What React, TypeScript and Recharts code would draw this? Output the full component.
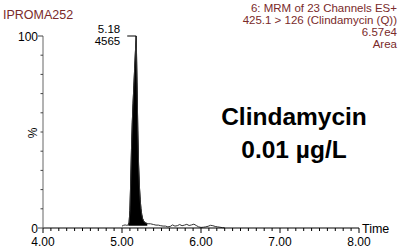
import React from 'react';
import { ComposedChart, Area, Line, XAxis, YAxis, ReferenceDot } from 'recharts';

// Retention time (min) and relative intensity (%) of the MRM trace
const times = [
  5.0, 5.02, 5.04, 5.06, 5.08, 5.09, 5.1, 5.11, 5.12, 5.13, 5.14, 5.15, 5.16, 5.17, 5.18,
  5.19, 5.2, 5.21, 5.22, 5.23, 5.24, 5.25, 5.26, 5.27, 5.28, 5.3, 5.32, 5.34, 5.36, 5.38,
  5.4, 5.43, 5.46, 5.49, 5.52, 5.55, 5.58, 5.61, 5.64, 5.67, 5.7, 5.73, 5.76, 5.79, 5.82,
  5.85, 5.88, 5.91, 5.94, 5.97, 6.0, 6.03, 6.06, 6.09, 6.12, 6.15, 6.18, 6.21, 6.24, 6.27, 6.3,
];
const intensity = [
  1.0, 1.4, 1.6, 1.4, 1.6, 3, 9, 24, 41, 55, 65, 74, 83, 92, 100,
  76, 51, 33, 22, 15, 10, 7, 5, 4, 3.2, 2.6, 2.3, 2.2, 2.2, 2.0,
  1.8, 1.5, 1.5, 1.2, 1.0, 1.0, 0.6, 0.8, 1.6, 1.0, 1.2, 1.8, 1.2, 1.5, 1.9,
  1.3, 1.6, 2.0, 1.3, 0.6, 0.3, 0.4, 0.6, 0.9, 1.4, 1.2, 0.8, 0.6, 0.4, 0.2, 0.1,
];

// Integrated peak
const peakStart = 5.08;
const peakEnd = 5.32;
const peakBase = 1.2;
const apexTime = 5.18;
const apexTimeLabel = '5.18';
const apexAreaLabel = '4565';

// Axes
const xMajorTicks = [4, 5, 6, 7, 8];
const xTickLabels = ['4.00', '5.00', '6.00', '7.00', '8.00'];
const xMinorStep = 0.1;
const yTicks = [0, 10, 20, 30, 40, 50, 60, 70, 80, 90, 100];
const yLabeledTicks = [0, 100];
const yLabels = ['0', '100'];

// Header texts
const sampleName = 'IPROMA252';
const headerLines = [
  '6: MRM of 23 Channels ES+',
  '425.1 > 126 (Clindamycin (Q))',
  '6.57e4',
  'Area',
];
const titleLines = ['Clindamycin', '0.01 µg/L'];

const trace = times.map((t, i) => ({ t, v: intensity[i] }));
const peak = trace.filter((d) => d.t >= peakStart - 1e-9 && d.t <= peakEnd + 1e-9);
const xAllTicks = Array.from({ length: Math.round((8 - 4) / xMinorStep) + 1 }, (_, i) =>
  Math.round((4 + i * xMinorStep) * 10) / 10
);

const FONT = '"Liberation Sans", Arial, Helvetica, sans-serif';
const MAROON = '#7a2a2a';
const FS = 12;

const XTick = (props: any) => {
  const { x, y, payload } = props;
  const v = payload.value as number;
  const idx = xMajorTicks.findIndex((m) => Math.abs(m - v) < 1e-6);
  const major = idx >= 0;
  return (
    <g>
      <line x1={x} y1={y} x2={x} y2={y + (major ? 5 : 3)} stroke="#000" strokeWidth={1} />
      {major && (
        <text x={x} y={y + 18} textAnchor="middle" fontSize={FS} fontFamily={FONT} fill="#000">
          {xTickLabels[idx]}
        </text>
      )}
    </g>
  );
};

const YTick = (props: any) => {
  const { x, y, payload } = props;
  const v = payload.value as number;
  const idx = yLabeledTicks.indexOf(v);
  const major = idx >= 0;
  return (
    <g>
      <line x1={x - (major ? 5 : 2.5)} y1={y} x2={x} y2={y} stroke="#444" strokeWidth={1} />
      {major && (
        <text x={x - 5} y={y + 4.5} textAnchor="end" fontSize={FS} fontFamily={FONT} fill="#000">
          {yLabels[idx]}
        </text>
      )}
    </g>
  );
};

const ApexLabel = (props: any) => {
  const { cx, cy } = props;
  return (
    <g>
      <line x1={cx - 9} y1={cy} x2={cx} y2={cy} stroke="#000" strokeWidth={1} />
      <text x={cx - 16} y={cy - 3} textAnchor="end" fontSize={11.5} fontFamily={FONT} fill="#000">
        {apexTimeLabel}
      </text>
      <text x={cx - 16} y={cy + 9} textAnchor="end" fontSize={11.5} fontFamily={FONT} fill="#000">
        {apexAreaLabel}
      </text>
    </g>
  );
};

export default function App() {
  return (
    <div style={{ position: 'absolute', left: 0, top: 0, width: 403, height: 249, background: '#fff' }}>
      <ComposedChart width={403} height={249} margin={{ top: 36, right: 44, bottom: 0, left: 3 }}>
        <XAxis
          type="number"
          dataKey="t"
          domain={[4, 8]}
          ticks={xAllTicks}
          interval={0}
          allowDataOverflow
          height={21}
          tickSize={0}
          tickMargin={0}
          tickLine={false}
          axisLine={{ stroke: '#000', strokeWidth: 1 }}
          tick={(p: any) => <XTick {...p} />}
        />
        <YAxis
          type="number"
          domain={[0, 100]}
          ticks={yTicks}
          interval={0}
          width={40}
          tickSize={0}
          tickMargin={0}
          tickLine={false}
          axisLine={{ stroke: '#666', strokeWidth: 1 }}
          tick={(p: any) => <YTick {...p} />}
        />
        <Area
          data={peak}
          dataKey="v"
          type="linear"
          baseValue={peakBase}
          stroke="#000"
          strokeWidth={1}
          fill="#000"
          fillOpacity={1}
          isAnimationActive={false}
          dot={false}
          activeDot={false}
        />
        <Line
          data={trace}
          dataKey="v"
          type="linear"
          stroke="#333"
          strokeWidth={1}
          dot={false}
          activeDot={false}
          isAnimationActive={false}
        />
        <ReferenceDot
          x={apexTime}
          y={100}
          r={0}
          ifOverflow="visible"
          shape={(p: any) => <ApexLabel {...p} />}
        />
      </ComposedChart>
      <svg
        width={403}
        height={249}
        style={{ position: 'absolute', left: 0, top: 0, pointerEvents: 'none' }}
      >
        <text x={3} y={19} fontSize={12.5} fontFamily={FONT} fill={MAROON}>
          {sampleName}
        </text>
        {headerLines.map((s, i) => (
          <text key={s} x={397} y={12 + i * 12} textAnchor="end" fontSize={11.5} fontFamily={FONT} fill={MAROON}>
            {s}
          </text>
        ))}
        {titleLines.map((s, i) => (
          <text
            key={s}
            x={294}
            y={125 + i * 33}
            textAnchor="middle"
            fontSize={24.5}
            fontWeight="bold"
            fontFamily={FONT}
            fill="#000"
          >
            {s}
          </text>
        ))}
        <text x={362} y={233} fontSize={12.5} fontFamily={FONT} fill="#000">
          Time
        </text>
        <text
          x={0}
          y={0}
          transform="translate(37,133) rotate(-90)"
          textAnchor="middle"
          fontSize={FS}
          fontFamily={FONT}
          fill="#000"
        >
          %
        </text>
      </svg>
    </div>
  );
}
